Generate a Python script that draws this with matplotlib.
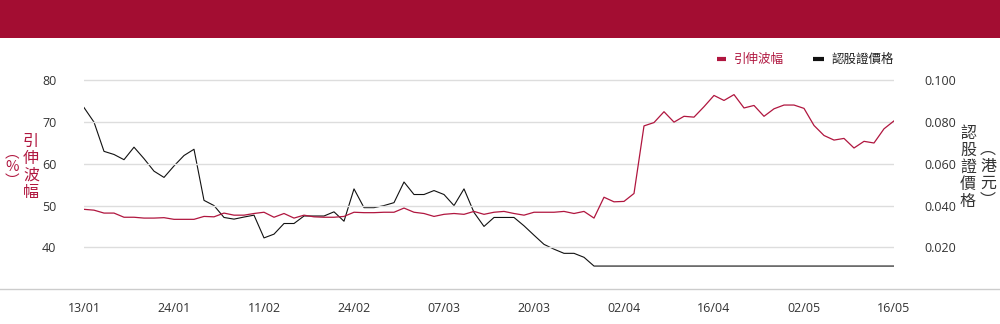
import matplotlib
matplotlib.use("Agg")
import matplotlib.pyplot as plt
from matplotlib.patches import Rectangle
from matplotlib.lines import Line2D

# ---- data ----
tick_labels = ["13/01", "24/01", "11/02", "24/02", "07/03", "20/03",
               "02/04", "16/04", "02/05", "16/05"]
tick_step = 9

implied_vol = [49.1, 48.9, 48.2, 48.2, 47.2, 47.2, 47.0, 47.0, 47.1, 46.7,
               46.7, 46.7, 47.4, 47.3, 48.2, 47.7, 47.7, 48.1, 48.4, 47.2,
               48.1, 47.0, 47.7, 47.3, 47.2, 47.2, 47.4, 48.4, 48.3, 48.3,
               48.4, 48.4, 49.4, 48.4, 48.1, 47.4, 47.9, 48.1, 47.9, 48.6,
               47.9, 48.4, 48.6, 48.1, 47.7, 48.4, 48.4, 48.4, 48.6, 48.1,
               48.6, 47.0, 52.0, 50.9, 51.0, 52.9, 69.1, 69.9, 72.5, 70.0,
               71.4, 71.2, 73.7, 76.4, 75.2, 76.6, 73.4, 74.0, 71.4, 73.2,
               74.1, 74.1, 73.3, 69.2, 66.8, 65.7, 66.1, 63.8, 65.4, 65.0,
               68.4, 70.3]

warrant_price = [0.087, 0.080, 0.066, 0.0645, 0.062, 0.068, 0.0625, 0.0565, 0.0535, 0.059,
                 0.064, 0.067, 0.0425, 0.040, 0.0343, 0.0335, 0.0345, 0.0354, 0.0245, 0.0263,
                 0.0314, 0.0314, 0.035, 0.035, 0.035, 0.037, 0.0325, 0.048, 0.039, 0.039,
                 0.040, 0.0414, 0.0513, 0.0453, 0.0453, 0.0472, 0.0453, 0.040, 0.048, 0.0367,
                 0.030, 0.0343, 0.0343, 0.0343, 0.0303, 0.0258, 0.0214, 0.0191, 0.0171, 0.0171,
                 0.0152, 0.011, 0.011, 0.011, 0.011, 0.011, 0.011, 0.011, 0.011, 0.011,
                 0.011, 0.011, 0.011, 0.011, 0.011, 0.011, 0.011, 0.011, 0.011, 0.011,
                 0.011, 0.011, 0.011, 0.011, 0.011, 0.011, 0.011, 0.011, 0.011, 0.011,
                 0.011, 0.011]

left_ticks = [40, 50, 60, 70, 80]
right_ticks = [0.020, 0.040, 0.060, 0.080, 0.100]

# ---- style ----
CJK = ["Noto Sans CJK TC", "DejaVu Sans"]
NUM = ["Open Sans", "Noto Sans CJK TC", "DejaVu Sans"]
plt.rcParams["font.family"] = NUM
RED = "#B0163F"
HEAD = "#A30D32"
TXT = "#333333"
GRID = "#DDDDDD"

W, H = 1000, 324
fig = plt.figure(figsize=(10, 3.24), dpi=100)

# header band
fig.add_artist(Rectangle((0, (H - 38) / H), 1, 38 / H, transform=fig.transFigure,
                         facecolor=HEAD, edgecolor="none"))

ax_left, ax_right_px = 84, 894
ax_bot, ax_top = 289, 70
ax = fig.add_axes([ax_left / W, (H - ax_bot) / H, (ax_right_px - ax_left) / W,
                   (ax_bot - ax_top) / H])
x = list(range(len(implied_vol)))
ax.set_xlim(0, len(implied_vol) - 1)
ax.set_ylim(30, 82.5)
for s in ax.spines.values():
    s.set_visible(False)
ax.set_yticks(left_ticks)
ax.set_yticklabels([str(v) for v in left_ticks], color=TXT, fontsize=9)
ax.tick_params(axis="y", length=0, pad=20)
ax.grid(axis="y", color=GRID, linewidth=1.0)
ax.set_axisbelow(True)
ax.set_xticks([tick_step * k for k in range(len(tick_labels))])
ax.set_xticklabels(tick_labels, color=TXT, fontsize=9)
ax.tick_params(axis="x", length=0, pad=9)

ax2 = ax.twinx()
ax2.set_ylim(0, (82.5 - 30) * 0.002)
for s in ax2.spines.values():
    s.set_visible(False)
ax2.set_yticks(right_ticks)
ax2.set_yticklabels([f"{v:.3f}" for v in right_ticks], color=TXT, fontsize=9)
ax2.tick_params(axis="y", length=0, pad=22)

ax2.plot(x, warrant_price, color="#111111", linewidth=0.8, zorder=3)
ax.plot(x, implied_vol, color=RED, linewidth=0.9, zorder=4)
ax.set_zorder(ax2.get_zorder() + 1)
ax.patch.set_visible(False)

# full-width bottom line
fig.add_artist(Line2D([0, 1], [(H - ax_bot) / H] * 2, transform=fig.transFigure,
                      color="#CCCCCC", linewidth=1.0))

# left axis label (vertical)
def vtext(xp, yp, s, color, fs=11.5):
    fig.text(xp / W, (H - yp) / H, "\n".join(s), color=color, fontsize=fs,
             family=CJK, ha="center", va="top", linespacing=1.0)

vtext(31, 133, "引伸波幅", RED)
vtext(12, 146, "︵%︶", RED, fs=10.5)
vtext(968, 125, "認股證價格", TXT)
vtext(988, 141, "︵港元︶", TXT, fs=11.5)

# legend
ly = (H - 59) / H
fig.add_artist(Line2D([717 / W, 726 / W], [ly, ly], transform=fig.transFigure,
                      color=RED, linewidth=3, solid_capstyle="butt"))
fig.text(734 / W, ly, "引伸波幅", color=RED, fontsize=9, family=CJK, va="center")
fig.add_artist(Line2D([813 / W, 824 / W], [ly, ly], transform=fig.transFigure,
                      color="#111111", linewidth=3, solid_capstyle="butt"))
fig.text(831 / W, ly, "認股證價格", color="#222222", fontsize=9, family=CJK, va="center")

fig.savefig("out.png", dpi=100, facecolor="white")
